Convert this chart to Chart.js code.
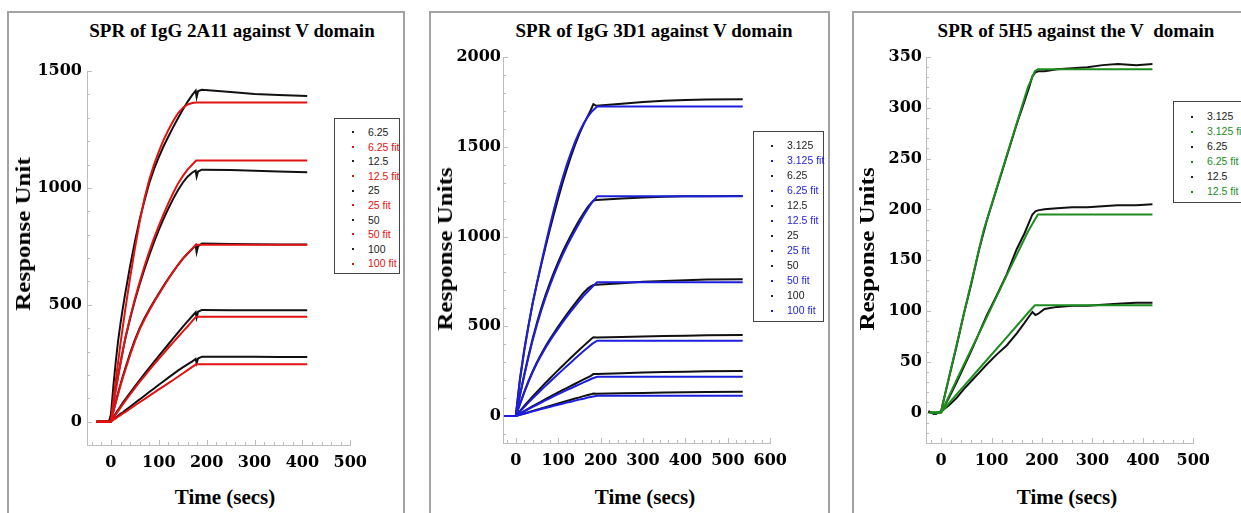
<!DOCTYPE html>
<html>
<head>
<meta charset="utf-8">
<title>SPR against V domain</title>
<script src="https://cdn.jsdelivr.net/npm/chart.js@4.4.1/dist/chart.umd.min.js"></script>
<style>
  body { margin: 0; width: 1241px; height: 513px; overflow: hidden; background: #fff; position: relative; }
  .panel { position: absolute; top: 11px; height: 530px; border: 2px solid #a3a3a3; box-sizing: border-box; }
  canvas { position: absolute; }
  .title { position: absolute; top: 20px; transform: translateX(-50%); white-space: nowrap;
           font: bold 19px "Liberation Serif", serif; line-height: 22px; color: #000; }
  .xtitle { position: absolute; top: 485px; transform: translateX(-50%); white-space: nowrap;
            font: bold 21px "Liberation Serif", serif; line-height: 24px; color: #000; }
  .ytitle { position: absolute; transform: translate(-50%, -50%) rotate(-90deg) scaleX(1.25); white-space: nowrap;
            font: bold 20px "Liberation Serif", serif; line-height: 24px; color: #000; }
  .legend { position: absolute; border: 1px solid #444; background: #fff; box-sizing: border-box;
            font: 10.5px "Liberation Sans", Arial, sans-serif; }
  .legend div { position: relative; }
  .legend i { position: absolute; left: 17px; width: 2px; height: 2px; }
  .legend span { position: absolute; left: 33px; white-space: nowrap; }
</style>
</head>
<body>
<div class="panel" style="left:7px;width:398px"></div>
<div class="panel" style="left:429px;width:401px"></div>
<div class="panel" style="left:852px;width:420px"></div>

<canvas id="chart1" width="368" height="419" style="left:7px;top:56px"></canvas>
<canvas id="chart2" width="372" height="431" style="left:423px;top:42px"></canvas>
<canvas id="chart3" width="372" height="431" style="left:846px;top:42px"></canvas>

<div class="title" style="left:232px">SPR of IgG 2A11 against V domain</div>
<div class="title" style="left:654px">SPR of IgG 3D1 against V domain</div>
<div class="title" style="left:1076px">SPR of 5H5 against the V&nbsp; domain</div>

<div class="ytitle" style="left:23px;top:234px">Response Unit</div>
<div class="ytitle" style="left:445px;top:249px">Response Units</div>
<div class="ytitle" style="left:867px;top:249px">Response Units</div>

<div class="xtitle" style="left:225px">Time (secs)</div>
<div class="xtitle" style="left:645px">Time (secs)</div>
<div class="xtitle" style="left:1067px">Time (secs)</div>

<div class="legend" id="legend1" style="left:334px;top:118px;width:66px;height:156px;padding-top:6px"></div>
<div class="legend" id="legend2" style="left:753px;top:131px;width:71px;height:191px;padding-top:6px"></div>
<div class="legend" id="legend3" style="left:1173px;top:101px;width:100px;height:102px;padding-top:7px"></div>

<script>
// ---- IgG 2A11 (left) ----
const conc1 = ["6.25", "12.5", "25", "50", "100"];
const time1 = [-30, -4, 0, 5, 10, 15, 20, 25, 30, 40, 50, 60, 70, 80, 90, 100, 110, 120, 130, 140, 150, 160, 170, 177, 179, 182, 190, 250, 300, 350, 410];
const resp1_6 = [0, 0, 3, 10, 17, 25, 33, 40, 48, 64, 80, 95, 111, 127, 142, 158, 173, 188, 203, 218, 232, 245, 258, 268, 250, 270, 278, 278, 278, 277, 277];
const resp1_12 = [0, 0, 5, 20, 35, 50, 66, 81, 95, 123, 151, 178, 204, 230, 256, 281, 306, 331, 356, 381, 405, 429, 452, 468, 445, 470, 478, 477, 476, 476, 476];
const resp1_25 = [0, 0, 10, 45, 85, 123, 160, 195, 228, 292, 350, 400, 442, 480, 515, 548, 581, 612, 642, 670, 696, 718, 739, 755, 725, 750, 762, 760, 759, 758, 758];
const resp1_50 = [0, 0, 20, 80, 140, 197, 252, 305, 355, 440, 518, 588, 652, 712, 768, 820, 868, 912, 953, 990, 1022, 1048, 1066, 1074, 1048, 1070, 1078, 1076, 1073, 1070, 1067];
const resp1_100 = [0, 0, 30, 150, 255, 345, 420, 488, 550, 665, 770, 865, 945, 1020, 1080, 1132, 1178, 1220, 1260, 1298, 1334, 1368, 1398, 1416, 1388, 1414, 1420, 1410, 1402, 1397, 1393];
const fitTime1 = [-30, 0, 5, 10, 15, 20, 25, 30, 40, 50, 60, 70, 80, 90, 100, 110, 120, 130, 140, 150, 160, 170, 178, 410];
const fit1_6 = [0, 0, 7, 14, 21, 28, 35, 41, 55, 69, 83, 96, 110, 124, 138, 151, 165, 178, 192, 206, 220, 234, 245, 245];
const fit1_12 = [0, 0, 15, 30, 45, 60, 75, 89, 116, 143, 170, 195, 220, 245, 269, 292, 316, 339, 362, 385, 407, 431, 449, 449];
const fit1_25 = [0, 0, 40, 80, 118, 155, 189, 221, 285, 343, 395, 437, 475, 511, 545, 578, 610, 641, 670, 697, 720, 741, 757, 757];
const fit1_50 = [0, 0, 68, 132, 192, 250, 305, 358, 445, 525, 597, 665, 728, 785, 838, 888, 935, 978, 1018, 1050, 1078, 1100, 1117, 1117];
const fit1_100 = [0, 0, 88, 175, 255, 335, 408, 480, 615, 740, 855, 955, 1035, 1100, 1155, 1205, 1248, 1286, 1319, 1342, 1357, 1363, 1365, 1365];
const xTicks1 = [0, 100, 200, 300, 400, 500];
const yTicks1 = [0, 500, 1000, 1500];

// ---- IgG 3D1 (middle) ----
const conc2 = ["3.125", "6.25", "12.5", "25", "50", "100"];
const time2 = [-26, 0, 10, 20, 30, 40, 50, 60, 70, 80, 90, 100, 110, 120, 130, 140, 150, 160, 170, 177, 183, 190, 250, 300, 350, 400, 450, 535];
const resp2_3 = [0, 0, 7, 14, 21, 28, 35, 42, 49, 56, 63, 70, 77, 84, 91, 98, 104, 111, 117, 121, 126, 125, 127, 129, 131, 133, 134, 135];
const resp2_6 = [0, 0, 14, 28, 42, 55, 68, 81, 94, 107, 120, 132, 144, 156, 168, 180, 192, 204, 216, 224, 234, 234, 238, 242, 245, 247, 249, 251];
const resp2_12 = [0, 0, 28, 56, 83, 109, 134, 159, 184, 208, 232, 256, 279, 302, 325, 347, 369, 391, 412, 428, 439, 437, 440, 443, 446, 448, 450, 451];
const resp2_25 = [0, 0, 68, 133, 194, 250, 300, 345, 387, 426, 463, 498, 532, 565, 597, 628, 658, 687, 710, 722, 730, 732, 740, 748, 753, 757, 760, 762];
const resp2_50 = [0, 0, 118, 230, 335, 432, 520, 600, 672, 738, 800, 858, 911, 960, 1006, 1050, 1092, 1130, 1165, 1185, 1200, 1203, 1212, 1218, 1222, 1224, 1225, 1226];
const resp2_100 = [0, 0, 210, 370, 505, 630, 740, 842, 940, 1035, 1125, 1212, 1295, 1372, 1445, 1512, 1572, 1625, 1672, 1705, 1737, 1728, 1740, 1750, 1756, 1760, 1763, 1765];
const fitTime2 = [-26, 0, 10, 20, 30, 40, 50, 60, 70, 80, 90, 100, 110, 120, 130, 140, 150, 160, 170, 180, 192, 535];
const fit2_3 = [0, 0, 7, 13, 20, 26, 32, 39, 45, 51, 57, 63, 69, 75, 80, 86, 92, 97, 103, 108, 113, 113];
const fit2_6 = [0, 0, 13, 26, 39, 51, 63, 75, 87, 99, 111, 122, 133, 144, 155, 166, 177, 188, 198, 209, 219, 219];
const fit2_12 = [0, 0, 25, 50, 75, 99, 122, 145, 168, 190, 212, 234, 256, 278, 299, 320, 341, 362, 382, 402, 420, 420];
const fit2_25 = [0, 0, 66, 130, 190, 245, 294, 338, 379, 417, 453, 487, 520, 552, 583, 613, 642, 670, 694, 719, 745, 745];
const fit2_50 = [0, 0, 115, 225, 328, 423, 509, 587, 658, 723, 785, 842, 895, 944, 990, 1034, 1076, 1117, 1155, 1191, 1224, 1224];
const fit2_100 = [0, 0, 200, 360, 500, 630, 740, 850, 955, 1055, 1150, 1240, 1322, 1398, 1466, 1528, 1583, 1630, 1668, 1698, 1724, 1724];
const xTicks2 = [0, 100, 200, 300, 400, 500, 600];
const yTicks2 = [0, 500, 1000, 1500, 2000];

// ---- 5H5 (right) ----
const conc3 = ["3.125", "6.25", "12.5"];
const time3 = [-25, -20, -15, -10, -5, 0, 5, 15, 30, 45, 60, 75, 90, 110, 130, 150, 165, 175, 181, 187, 192, 205, 230, 260, 290, 320, 350, 387, 419];
const resp3_3 = [1, 0, -1, -1, 0, 1, 12, 33, 64, 97, 127, 160, 188, 220, 252, 284, 306, 321, 331, 335, 336, 336, 338, 339, 340, 342, 343, 342, 343];
const resp3_6 = [1, 0, -1, -1, 0, 1, 5, 14, 29, 45, 61, 78, 95, 115, 136, 161, 176, 188, 195, 198, 199, 200, 201, 202, 202, 203, 204, 204, 205];
const resp3_12 = [1, 0, -1, -1, 0, 1, 3, 7, 14, 23, 31, 39, 47, 57, 66, 78, 88, 95, 99, 96, 97, 102, 104, 105, 105, 106, 107, 108, 108];
const fitTime3 = [-23, 0, 3, 45, 84, 130, 172, 186, 192, 419];
const fit3_3 = [0, 0, 8, 97, 179, 253, 320, 336, 338, 338];
const fit3_6 = [0, 0, 3, 47, 87, 135, 178, 190, 195, 195];
const fit3_12 = [0, 0, 2, 26, 48, 74, 98, 105.5, 105.5, 105.5];
const xTicks3 = [0, 100, 200, 300, 400, 500];
const yTicks3 = [0, 50, 100, 150, 200, 250, 300, 350];

const DATA_COLOR = "#111";
const tickFont = { family: "DejaVu Serif", weight: "bold", size: 16 };

// small inward ticks along both axes
const minorTicks = {
  id: "minorTicks",
  beforeDatasetsDraw(chart, args, opts) {
    const { ctx, scales: { x, y } } = chart;
    ctx.save();
    ctx.strokeStyle = "#bdbdbd";
    ctx.lineWidth = 1;
    ctx.beginPath();
    for (let v = Math.ceil(x.min / opts.x) * opts.x; v <= x.max; v += opts.x) {
      const px = Math.round(x.getPixelForValue(v)) + 0.5;
      const len = v % opts.xMajor === 0 ? 5 : 3;
      ctx.moveTo(px, x.top);
      ctx.lineTo(px, x.top - len);
    }
    for (let v = Math.ceil(y.min / opts.y) * opts.y; v <= y.max; v += opts.y) {
      const py = Math.round(y.getPixelForValue(v)) + 0.5;
      const len = v % opts.yMajor === 0 ? 5 : 3;
      ctx.moveTo(y.right, py);
      ctx.lineTo(y.right + len, py);
    }
    ctx.stroke();
    ctx.restore();
  }
};

function pts(t, v) {
  return t.map((x, i) => ({ x: x, y: v[i] }));
}

function buildSets(conc, time, resp, fitTime, fits, fitColor) {
  const sets = [];
  conc.forEach((c, i) => {
    sets.push({ label: c, data: pts(time, resp[i]), borderColor: DATA_COLOR, order: 2 });
    sets.push({ label: c + " fit", data: pts(fitTime, fits[i]), borderColor: fitColor, order: 1 });
  });
  sets.forEach(s => {
    s.showLine = true;
    s.pointRadius = 0;
    s.borderWidth = 2;
    s.fill = false;
  });
  return sets;
}

function drawChart(id, cfg) {
  const ctx = document.getElementById(id).getContext("2d");
  return new Chart(ctx, {
    type: "scatter",
    data: { datasets: cfg.datasets },
    options: {
      responsive: false,
      animation: false,
      devicePixelRatio: 1,
      layout: { padding: { top: 15, right: cfg.padRight, left: 0, bottom: 0 } },
      plugins: {
        legend: { display: false },
        tooltip: { enabled: false },
        minorTicks: cfg.minor
      },
      elements: { line: { tension: 0 } },
      scales: {
        x: {
          type: "linear",
          min: cfg.xMin,
          max: cfg.xMax,
          afterBuildTicks: s => { s.ticks = cfg.xTicks.map(v => ({ value: v })); },
          afterFit: s => { s.height = 30; },
          grid: { display: false, drawTicks: false },
          border: { color: "#bdbdbd", width: 1 },
          ticks: { font: tickFont, color: "#000", padding: 8, maxRotation: 0, autoSkip: false, callback: v => String(v) }
        },
        y: {
          type: "linear",
          min: cfg.yMin,
          max: cfg.yMax,
          afterBuildTicks: s => { s.ticks = cfg.yTicks.map(v => ({ value: v })); },
          afterFit: s => { s.width = 80; },
          grid: { display: false, drawTicks: false },
          border: { color: "#bdbdbd", width: 1 },
          ticks: { font: tickFont, color: "#000", padding: cfg.yPad, autoSkip: false, callback: v => String(v) }
        }
      }
    },
    plugins: [minorTicks]
  });
}

function buildLegend(id, conc, fitColor, rowH) {
  const box = document.getElementById(id);
  conc.forEach(c => {
    [[c, "#222"], [c + " fit", fitColor]].forEach(([text, color]) => {
      const row = document.createElement("div");
      row.style.height = rowH + "px";
      row.style.lineHeight = rowH + "px";
      row.innerHTML = `<i style="background:${color};top:${rowH / 2 - 1}px"></i><span style="color:${color}">${text}</span>`;
      box.appendChild(row);
    });
  });
}

const RED = "rgb(226, 18, 18)";
const BLUE = "rgb(30, 30, 222)";
const GREEN = "rgb(30, 140, 30)";

drawChart("chart1", {
  datasets: buildSets(conc1, time1, [resp1_6, resp1_12, resp1_25, resp1_50, resp1_100],
    fitTime1, [fit1_6, fit1_12, fit1_25, fit1_50, fit1_100], RED),
  xMin: -50, xMax: 500, yMin: -100, yMax: 1500,
  xTicks: xTicks1, yTicks: yTicks1, yPad: 5, padRight: 20,
  minor: { x: 20, xMajor: 100, y: 100, yMajor: 500 }
});

drawChart("chart2", {
  datasets: buildSets(conc2, time2, [resp2_3, resp2_6, resp2_12, resp2_25, resp2_50, resp2_100],
    fitTime2, [fit2_3, fit2_6, fit2_12, fit2_25, fit2_50, fit2_100], BLUE),
  xMin: -30, xMax: 600, yMin: -150, yMax: 2000,
  xTicks: xTicks2, yTicks: yTicks2, yPad: 2, padRight: 20,
  minor: { x: 20, xMajor: 100, y: 100, yMajor: 500 }
});

drawChart("chart3", {
  datasets: buildSets(conc3, time3, [resp3_3, resp3_6, resp3_12],
    fitTime3, [fit3_3, fit3_6, fit3_12], GREEN),
  xMin: -30, xMax: 500, yMin: -30, yMax: 350,
  xTicks: xTicks3, yTicks: yTicks3, yPad: 4, padRight: 20,
  minor: { x: 20, xMajor: 100, y: 10, yMajor: 50 }
});

buildLegend("legend1", conc1, RED, 14.6);
buildLegend("legend2", conc2, BLUE, 15);
buildLegend("legend3", conc3, GREEN, 15);
</script>
</body>
</html>
